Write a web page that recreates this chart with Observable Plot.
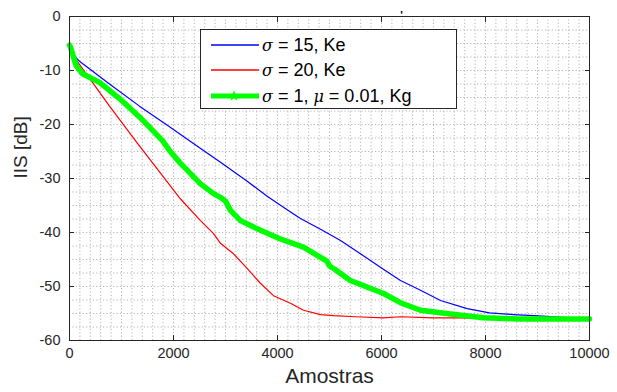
<!DOCTYPE html>
<html>
<head>
<meta charset="utf-8">
<script src="https://cdn.jsdelivr.net/npm/d3@7"></script>
<script src="https://cdn.jsdelivr.net/npm/@observablehq/plot@0.6"></script>
<style>
  html, body { margin: 0; padding: 0; background: #fff; }
  #wrap { position: relative; width: 617px; height: 392px; font-family: "Liberation Sans", Arial, sans-serif; }
  #legend { position: absolute; left: 200px; top: 29px; width: 255px; height: 78px; border: 1px solid #262626; background: #fff; }
  .row { position: absolute; left: 0; height: 24px; width: 255px; }
  .row svg { position: absolute; left: 9px; top: 0; }
  .row span { position: absolute; left: 61px; top: 1px; font-size: 18px; color: #000; white-space: nowrap; }
  .row i { font-family: "DejaVu Serif", serif; font-size: 16px; }
</style>
</head>
<body>
<div id="wrap"></div>
<script>
// ---- data ----
const xTicks = [0, 2000, 4000, 6000, 8000, 10000];
const yTicks = [-60, -50, -40, -30, -20, -10, 0];

const seriesNames = ["σ = 15, Ke", "σ = 20, Ke", "σ = 1, μ = 0.01, Kg"];

const blueX = [0, 192, 769, 1346, 1923, 2500, 2904, 3154, 3417, 3801, 4186, 4442, 4827, 5212, 5730, 6050, 6365, 6750, 7135, 7648, 8077, 8538, 8923, 9500, 10000];
const blueY = [-6.3, -8.3, -12.5, -16.6, -20.4, -24.3, -27.0, -28.7, -30.5, -33.3, -35.8, -37.4, -39.4, -41.5, -44.8, -46.9, -48.9, -50.7, -52.6, -54.1, -54.9, -55.2, -55.4, -55.7, -56.0];

const redX = [0, 200, 442, 769, 1019, 1300, 1620, 2135, 2519, 2770, 2904, 3032, 3150, 3420, 3670, 3923, 4250, 4500, 4827, 5077, 5500, 6038, 6365, 7000, 7500, 8000, 9000, 10000];
const redY = [-6.3, -9.0, -12.2, -16.6, -19.8, -23.4, -27.4, -33.8, -37.8, -40.2, -42.0, -43.0, -43.9, -46.7, -49.4, -51.7, -53.1, -54.4, -55.2, -55.4, -55.6, -55.8, -55.6, -55.8, -55.8, -55.9, -56.0, -56.0];

const greenX = [0, 20, 128, 250, 577, 962, 1346, 1538, 1788, 1923, 2135, 2519, 2770, 2904, 3000, 3096, 3288, 3673, 4058, 4500, 4827, 4950, 5000, 5100, 5400, 6040, 6365, 6750, 7327, 7962, 8615, 9250, 10000];
const greenY = [-5.3, -5.7, -9.1, -10.6, -12.2, -15.2, -18.6, -20.5, -23.0, -24.8, -27.2, -31.0, -32.8, -33.5, -34.2, -35.9, -37.8, -39.6, -41.2, -42.7, -44.6, -45.3, -46.2, -46.8, -48.9, -51.3, -53.0, -54.4, -55.1, -55.8, -56.0, -56.0, -56.0];

const colors = ["#0000ff", "#ff0000", "#00ff00"];

const blue = blueX.map((x, i) => ({x, y: blueY[i]}));
const red = redX.map((x, i) => ({x, y: redY[i]}));
const green = greenX.map((x, i) => ({x, y: greenY[i]}));

const gridStyle = {stroke: "#b4b4b4", strokeOpacity: 1, strokeDasharray: "1.2,2.2", strokeWidth: 1};

const chart = Plot.plot({
  width: 617,
  height: 392,
  marginLeft: 69,
  marginRight: 28,
  marginTop: 16,
  marginBottom: 52,
  x: {domain: [0, 10000]},
  y: {domain: [-60, 0]},
  style: {fontFamily: "'Liberation Sans', Arial, sans-serif", fontSize: "14px", color: "#262626", background: "white"},
  marks: [
    Plot.gridX(d3.range(0, 10001, 200), gridStyle),
    Plot.gridY(d3.range(-60, 0.01, 2.5), gridStyle),
    Plot.line(red, {x: "x", y: "y", stroke: colors[1], strokeWidth: 1.2}),
    Plot.line(blue, {x: "x", y: "y", stroke: colors[0], strokeWidth: 1.2}),
    Plot.line(green, {x: "x", y: "y", stroke: colors[2], strokeWidth: 5.5, strokeLinejoin: "round"}),
    Plot.frame({stroke: "#262626", strokeWidth: 1}),
    Plot.axisX(xTicks, {tickSize: -5, tickPadding: 12, tickFormat: d => String(d), label: null, fontSize: 14.5, fill: "#262626"}),
    Plot.axisX(xTicks, {anchor: "top", tickSize: -5, tickFormat: () => "", label: null}),
    Plot.axisY(yTicks, {tickSize: -5, tickPadding: 14, tickFormat: d => String(d), label: null, fontSize: 14.5, fill: "#262626"}),
    Plot.axisY(yTicks, {anchor: "right", tickSize: -5, tickFormat: () => "", label: null}),
    Plot.text(["Amostras"], {frameAnchor: "bottom", dy: 42, fontSize: 21, fill: "#262626"}),
    Plot.text(["IIS [dB]"], {frameAnchor: "left", dx: -49, rotate: -90, fontSize: 19, fill: "#262626"}),
    Plot.text(["'"], {frameAnchor: "top", dx: 72, dy: -5, fontSize: 11, fontWeight: "bold", fill: "#000"})
  ]
});

const wrap = document.getElementById("wrap");
wrap.appendChild(chart);

// legend
const legend = document.createElement("div");
legend.id = "legend";
const rowTops = [4, 29, 55];
const labelsHtml = [
  "<i>σ</i> = 15, Ke",
  "<i>σ</i> = 20, Ke",
  "<i>σ</i> = 1, <i>μ</i> = 0.01, Kg"
];
labelsHtml.forEach((html, i) => {
  const row = document.createElement("div");
  row.className = "row";
  row.style.top = rowTops[i] + "px";
  const sw = i === 2 ? 5 : 1.4;
  const star = i === 2
    ? `<polygon points="${d3.range(10).map(k => { const r = k % 2 ? 2.3 : 6; const a = -Math.PI / 2 + k * Math.PI / 5; return (24 + r * Math.cos(a)).toFixed(2) + "," + (11 + r * Math.sin(a)).toFixed(2); }).join(" ")}" fill="${colors[2]}"/>`
    : "";
  row.innerHTML = `<svg width="50" height="22"><line x1="1" x2="49" y1="11" y2="11" stroke="${colors[i]}" stroke-width="${sw}"/>${star}</svg><span>${html}</span>`;
  legend.appendChild(row);
});
wrap.appendChild(legend);
</script>
</body>
</html>
